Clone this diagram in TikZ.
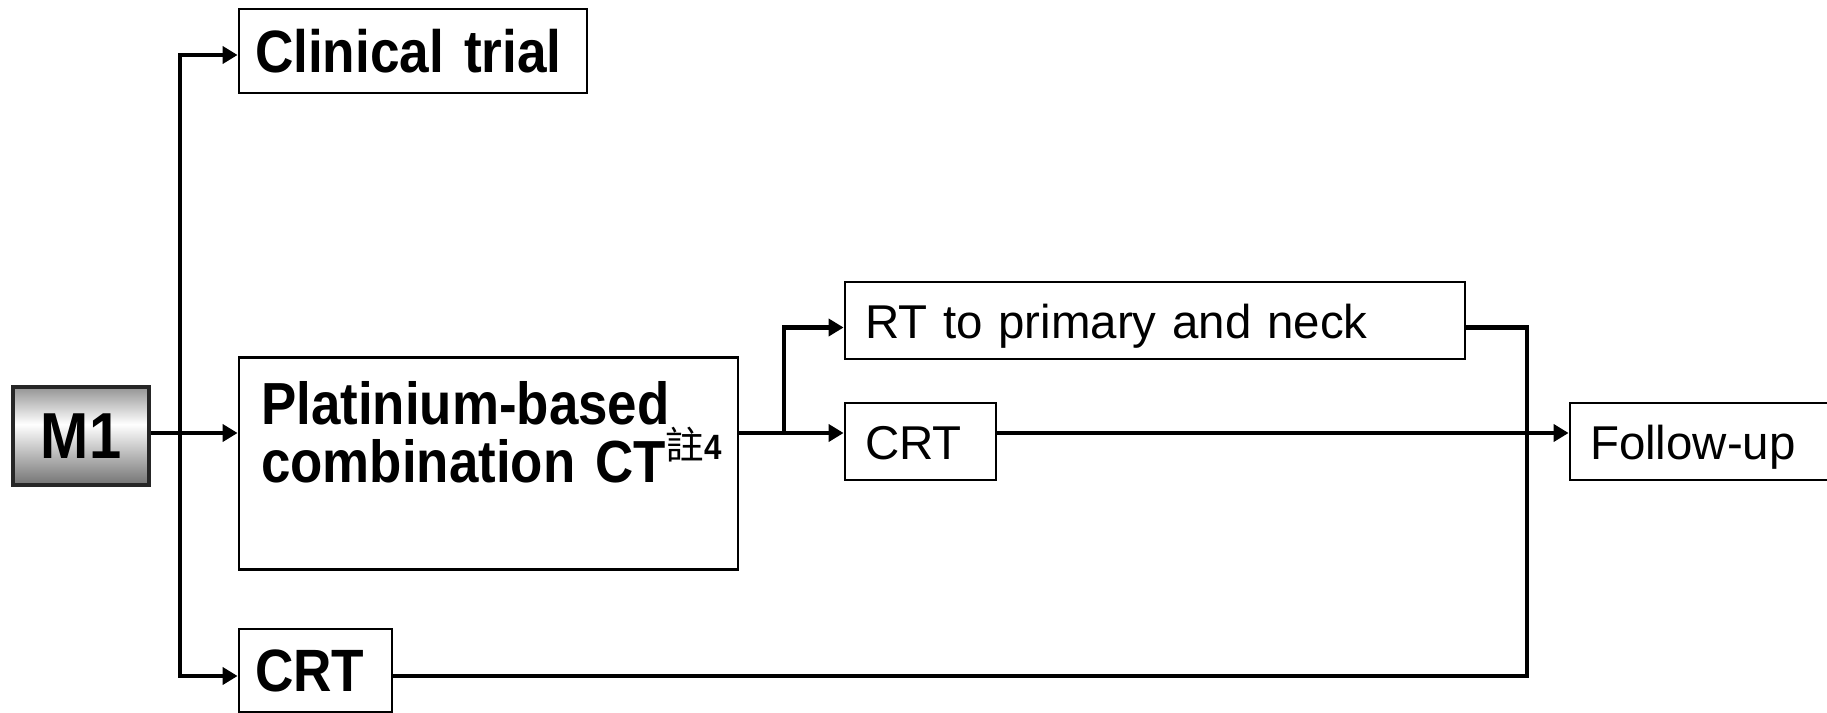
\documentclass[tikz,border=0pt]{standalone}
\usepackage{fontspec}
\setmainfont{Liberation Sans}
\newfontfamily\headfont[FakeStretch=0.89]{Liberation Sans}
\newfontfamily\cjk{Noto Sans CJK TC}
\usetikzlibrary{arrows.meta,positioning,calc}
\pgfdeclareverticalshading{mshade}{100bp}{color(0bp)=(black!55); color(25bp)=(black!55);
  color(56bp)=(white); color(75bp)=(black!42); color(100bp)=(black!42)}
\tikzset{
  stepbox/.style={draw=black, line width=0.8pt, inner xsep=0.2cm, inner ysep=0pt,
    text height=0.40cm, text depth=0.05cm,
    align=left, font=\fontsize{13.5}{15}\selectfont},
  headbox/.style={draw=black, line width=0.8pt, inner xsep=0.16cm, inner ysep=0pt,
    align=left, font=\headfont\bfseries\fontsize{17}{17}\selectfont},
  flow/.style={-{Triangle[length=1.5mm, width=1.7mm]}, line width=1.3pt},
  link/.style={line width=1.3pt},
}

\begin{document}
\begin{tikzpicture}
      \useasboundingbox (0,0) rectangle (18.27,-7.13);
      \clip (0,0) rectangle (18.27,-7.13);

      %% ---- M1 and first-line choices ----
      \node[draw=black!85, line width=1pt, shading=mshade, minimum width=1.36cm,
            minimum height=0.98cm, inner sep=0pt,
            font=\headfont\bfseries\fontsize{18.5}{18.5}\selectfont]
            (m1) at (0.81,-4.36) {M1};
      \node[headbox, text width=3.16cm, minimum height=0.84cm] (clin) at (4.13,-0.51) {Clinical trial};
      \node[draw=black, line width=0.8pt, inner sep=0pt, minimum width=4.99cm,
            minimum height=2.12cm] (plat) at (4.885,-4.635) {};
      \node[anchor=base west, inner sep=0pt, text width=4.7cm, align=left,
            font=\headfont\bfseries\fontsize{16.9}{16.5}\selectfont]
            (plattext) at ($(plat.north west)+(0.23,-0.68)$)
            {Platinium-based\\combination CT\raisebox{0.23cm}{\cjk\mdseries\fontsize{11}{11}\selectfont 註\headfont\bfseries\fontsize{10}{10}\selectfont 4}};
      \node[headbox, text width=1.21cm, minimum height=0.83cm] (crtb) at (3.155,-6.705) {CRT};

      %% ---- after chemotherapy ----
      \node[stepbox, text width=5.80cm, minimum height=0.77cm] (rt) at (11.55,-3.205) {RT to primary and neck};
      \node[stepbox, text width=1.11cm, minimum height=0.77cm] (crtm) at (9.205,-4.415) {CRT};
      \node[stepbox, text width=2.35cm, minimum height=0.77cm] (follow) at (17.075,-4.415) {Follow-up};

      %% ---- connectors ----
      \coordinate (split) at (1.80,-4.33);
      \coordinate (fork) at (7.84,-4.33);
      \coordinate (merge) at (15.27,-6.76);
      \draw[flow] (m1.east |- split) -- (plat.west |- split);
      \draw[flow] (split) |- ([yshift=-0.4mm]clin.west);
      \draw[flow] (split) |- (crtb.west |- merge);
      \draw[link] (plat.east |- split) -- (fork);
      \draw[flow] (fork) -- (crtm.west |- split);
      \draw[flow] (fork) |- ([yshift=-0.7mm]rt.west);
      \draw[flow] (crtm.east |- split) -- (follow.west |- split);
      \draw[link] ([yshift=-0.7mm]rt.east) -| (merge) -- (crtb.east |- merge);
\end{tikzpicture}
\end{document}
